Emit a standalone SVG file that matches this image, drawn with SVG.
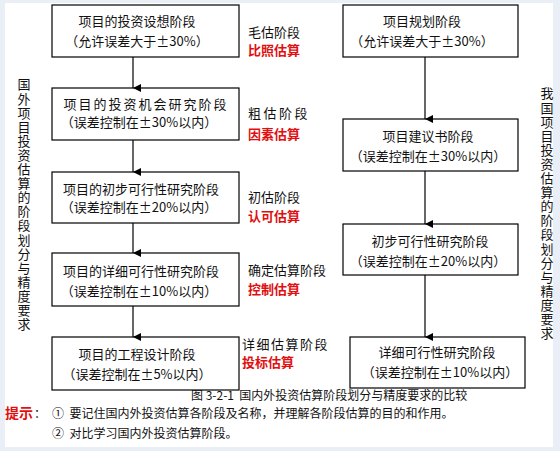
<svg xmlns="http://www.w3.org/2000/svg" width="560" height="451" viewBox="0 0 560 451">
<defs>
<marker id="ah" markerWidth="8" markerHeight="8" refX="4" refY="8" orient="auto" markerUnits="userSpaceOnUse" viewBox="0 0 8 8">
<path d="M0,0 L8,0 L4,8 Z" fill="#000"/>
</marker>
<style>
text{font-family:"Noto Sans CJK SC","Noto Sans",sans-serif;fill:#111;}
.bx{fill:#fff;stroke:#000;stroke-width:1.2;}
.t{font-size:13px;text-anchor:middle;}
.lbl{font-size:13px;}
.red{font-size:13px;font-weight:bold;fill:#e01010;}
.vt{font-size:13px;writing-mode:vertical-rl;letter-spacing:1.1px;}
.cap{font-size:12px;}
.con line{stroke:#000;stroke-width:1.2;marker-end:url(#ah);}
</style>
</defs>
<rect x="0" y="0" width="560" height="451" fill="#e9eef7"/>
<rect x="5" y="3" width="548" height="444" fill="#fff"/>

<g id="left-title"><text class="vt" x="24" y="78">国外项目投资估算的阶段划分与精度要求</text></g>
<g id="right-title"><text class="vt" x="547" y="87">我国项目投资估算的阶段划分与精度要求</text></g>

<g id="L1"><rect class="bx" x="52" y="5" width="187" height="52"/>
<text class="t" x="137" y="26">项目的投资设想阶段</text><text class="t" x="137" y="46">（允许误差大于±30%）</text></g>
<g id="L2"><rect class="bx" x="52" y="88" width="187" height="52"/>
<text class="t" x="146" y="109" style="letter-spacing:2px">项目的投资机会研究阶段</text><text class="t" x="139" y="127">（误差控制在±30%以内）</text></g>
<g id="L3"><rect class="bx" x="52" y="172" width="187" height="51"/>
<text class="t" x="141" y="194">项目的初步可行性研究阶段</text><text class="t" x="139" y="212">（误差控制在±20%以内）</text></g>
<g id="L4"><rect class="bx" x="52" y="253" width="187" height="53"/>
<text class="t" x="141" y="276">项目的详细可行性研究阶段</text><text class="t" x="139" y="296">（误差控制在±10%以内）</text></g>
<g id="L5"><rect class="bx" x="52" y="337" width="187" height="53"/>
<text class="t" x="137" y="359">项目的工程设计阶段</text><text class="t" x="137" y="379">（误差控制在±5%以内）</text></g>

<g id="M1"><text class="lbl" x="248" y="37">毛估阶段</text><text class="red" x="248" y="55">比照估算</text></g>
<g id="M2"><text class="lbl" x="248" y="118" style="letter-spacing:2.5px">粗估阶段</text><text class="red" x="248" y="139">因素估算</text></g>
<g id="M3"><text class="lbl" x="248" y="202">初估阶段</text><text class="red" x="248" y="221">认可估算</text></g>
<g id="M4"><text class="lbl" x="248" y="275">确定估算阶段</text><text class="red" x="248" y="294">控制估算</text></g>
<g id="M5"><text class="lbl" x="242" y="349" style="letter-spacing:1.5px">详细估算阶段</text><text class="red" x="242" y="367">投标估算</text></g>

<g id="R1"><rect class="bx" x="343" y="5" width="175" height="52"/>
<text class="t" x="422" y="26">项目规划阶段</text><text class="t" x="422" y="46">（允许误差大于±30%）</text></g>
<g id="R2"><rect class="bx" x="343" y="119" width="175" height="52"/>
<text class="t" x="428" y="141">项目建议书阶段</text><text class="t" x="428" y="161">（误差控制在±30%以内）</text></g>
<g id="R3"><rect class="bx" x="343" y="224" width="175" height="51"/>
<text class="t" x="430" y="246">初步可行性研究阶段</text><text class="t" x="428" y="266">（误差控制在±20%以内）</text></g>
<g id="R4"><rect class="bx" x="350" y="337" width="175" height="51"/>
<text class="t" x="437" y="357">详细可行性研究阶段</text><text class="t" x="440" y="377">（误差控制在±10%以内）</text></g>

<g class="con" id="connectors">
<line x1="133" y1="57" x2="133" y2="88"/>
<line x1="133" y1="140" x2="133" y2="172"/>
<line x1="133" y1="223" x2="133" y2="253"/>
<line x1="133" y1="306" x2="133" y2="337"/>
<line x1="425" y1="57" x2="425" y2="119"/>
<line x1="425" y1="171" x2="425" y2="224"/>
<line x1="425" y1="275" x2="425" y2="337"/>
</g>

<g id="caption"><text class="cap" x="191" y="400" xml:space="preserve">图 3-2-1  国内外投资估算阶段划分与精度要求的比较</text></g>
<g id="hints">
<text x="5" y="418" style="font-size:14px;font-weight:bold;fill:#e01010">提示</text><text x="34" y="418" class="cap">：</text>
<text class="cap" x="52" y="418" xml:space="preserve">①  要记住国内外投资估算各阶段及名称，并理解各阶段估算的目的和作用。</text>
<text class="cap" x="52" y="438" xml:space="preserve">②  对比学习国内外投资估算阶段。</text>
</g>
</svg>
